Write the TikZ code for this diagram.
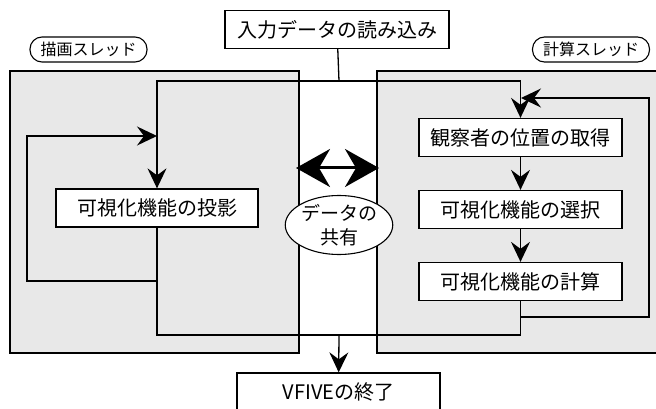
\documentclass[tikz,border=0pt]{standalone}
\usepackage{fontspec}
\setmainfont{Noto Sans CJK JP}
\usepackage{tikz}
\usetikzlibrary{shapes.geometric, arrows, arrows.meta}
\tikzstyle{panel} = [rectangle, draw=black, fill=gray!18, line width=1.3pt]
\tikzstyle{proc} = [rectangle, minimum width=203pt, minimum height=38pt, text centered, draw=black, fill=white, line width=1.3pt, font=\fontsize{20}{24}\selectfont]
\tikzstyle{thread} = [rectangle, rounded corners=12pt, minimum width=117pt, minimum height=25pt, text centered, draw=black, fill=white, line width=1.1pt, font=\fontsize{16}{18}\selectfont]
\tikzstyle{share} = [ellipse, minimum width=97pt, minimum height=56pt, text centered, align=center, draw=black, fill=white, line width=1.1pt, inner sep=0pt, font=\fontsize{19}{24}\selectfont]
\tikzset{arw/.style={-{Stealth[length=20pt,width=19pt,inset=7pt]},line width=1.3pt}}
\tikzset{dbl/.style={{Stealth[length=34pt,width=38pt,inset=11pt]}-{Stealth[length=34pt,width=38pt,inset=11pt]},line width=3pt}}
\tikzset{line/.style={line width=1.3pt}}

\begin{document}
\begin{tikzpicture}[x=1pt, y=-1pt, node distance=72pt]
			\useasboundingbox (0,0) rectangle (656,409);
			\clip (0,0) rectangle (656,409);
			\node (drawpanel) [panel, minimum width=289pt, minimum height=282pt] at (154.5,212) {};
			\node (calcpanel) [panel, minimum width=323pt, minimum height=282pt] at (538.5,212) {};
			\node (drawlab) [thread] at (88.5,49.5) {描画スレッド};
			\node (calclab) [thread] at (591,49.5) {計算スレッド};
			\node (readin) [proc, minimum width=224pt] at (337,29.5) {入力データの読み込み};
			
			\coordinate (split) at (339,81);
			\coordinate (pin) at (157,136);
			\coordinate (pback) at (157,281);
			\coordinate (cin) at (521,98);
			\coordinate (cback) at (520.5,317);
			\coordinate (ejoin) at (339,335);
			\coordinate (lshare) at (296,168);
			\coordinate (rshare) at (379,168);
			
			\node (project) [proc, minimum width=202pt] at (157,208) {可視化機能の投影};
			\node (observe) [proc] at (520.5,137.5) {観察者の位置の取得};
			\node (select) [proc, below of = observe] {可視化機能の選択};
			\node (calc) [proc, below of = select] {可視化機能の計算};
			\node (finish) [proc] at (338.5,392) {VFIVEの終了};
			
			\draw [line] (readin) -- (split);
			\draw [arw] (split) -| (project);
			\draw [arw] (split) -| (observe);
			\draw [arw] (pback) -- (27,281) |- (pin);
			\draw [line] (project) -- (157,335) -| (calc);
			\draw [arw] (cback) -- (649,317) |- (cin);
			\draw [arw] (observe) -- (select);
			\draw [arw] (select) -- (calc);
			\draw [arw] (ejoin) -- (finish);
			\draw [dbl] (lshare) -- (rshare);
			\node (sharenode) [share] at (339,225) {データの\\共有};
			
			
			\end{tikzpicture}
\end{document}
